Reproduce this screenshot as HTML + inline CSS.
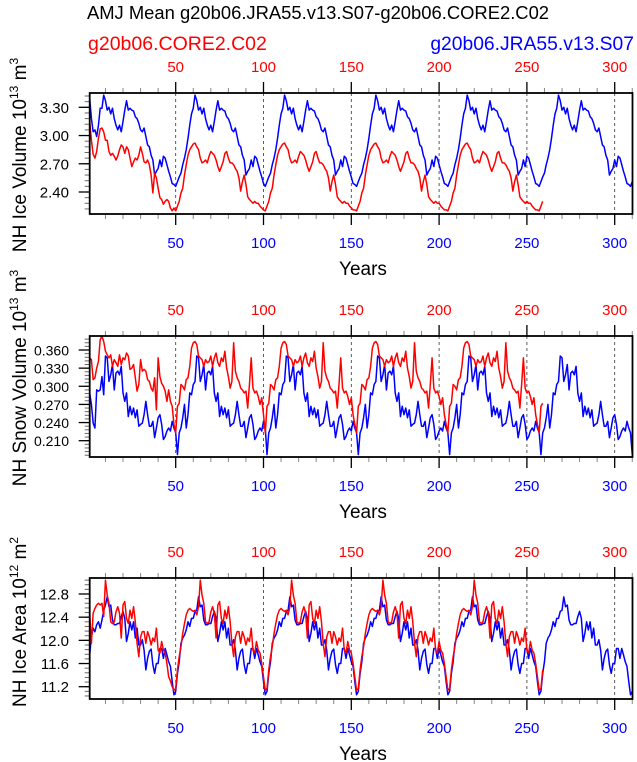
<!DOCTYPE html>
<html><head><meta charset="utf-8"><style>
html,body{margin:0;padding:0;background:#fff;}
svg{display:block;font-family:"Liberation Sans",sans-serif;}
</style></head><body>
<svg id="chart" width="637" height="762" viewBox="0 0 637 762" xmlns="http://www.w3.org/2000/svg">
<text x="318" y="19" font-size="18.4" text-anchor="middle">AMJ Mean g20b06.JRA55.v13.S07-g20b06.CORE2.C02</text>
<text x="88" y="50" font-size="19.5" fill="#ff0000">g20b06.CORE2.C02</text>
<text x="634" y="50" font-size="19.3" fill="#0000ff" text-anchor="end">g20b06.JRA55.v13.S07</text>
<g id="plots"></g>
</svg>
<script>
// ---- data (index i -> model year i+1) ----
const iceVolBlue = [3.40,3.18,3.04,3.06,2.99,3.11,3.29,
3.29,3.43,3.37,3.27,3.30,3.23,3.29,3.18,3.11,3.06,3.11,3.04,3.15,3.27,3.37,3.27,3.29,3.27,3.26,3.20,3.18,3.13,3.06,3.04,3.08,2.99,2.90,2.88,2.79,2.74,2.58,2.62,2.65,2.74,2.67,2.78,2.76,2.69,2.62,2.56,2.49,2.48,
2.46,2.51,2.56,2.60,2.69,2.76,2.85,2.97,3.11,3.23,3.29,3.43,3.37,3.27,3.30,3.23,3.29,3.18,3.11,3.06,3.11,3.04,3.15,3.27,3.37,3.27,3.29,3.27,3.26,3.20,3.18,3.13,3.06,3.04,3.08,2.99,2.90,2.88,2.79,2.74,2.58,2.62,2.65,2.74,2.67,2.78,2.76,2.69,2.62,2.56,2.49,
2.46,2.51,2.56,2.60,2.69,2.76,2.85,2.97,3.11,3.23,3.29,3.43,3.37,3.27,3.30,3.23,3.29,3.18,3.11,3.06,3.11,3.04,3.15,3.27,3.37,3.27,3.29,3.27,3.26,3.20,3.18,3.13,3.06,3.04,3.08,2.99,2.90,2.88,2.79,2.74,2.58,2.62,2.65,2.74,2.67,2.78,2.76,2.69,2.62,2.56,2.49,2.48,
2.46,2.51,2.56,2.60,2.69,2.76,2.85,2.97,3.11,3.23,3.29,3.43,3.37,3.27,3.30,3.23,3.29,3.18,3.11,3.06,3.11,3.04,3.15,3.27,3.37,3.27,3.29,3.27,3.26,3.20,3.18,3.13,3.06,3.04,3.08,2.99,2.90,2.88,2.79,2.74,2.58,2.62,2.65,2.74,2.67,2.78,2.76,2.69,2.62,2.56,2.49,2.48,
2.46,2.51,2.56,2.60,2.69,2.76,2.85,2.97,3.11,3.23,3.29,3.43,3.37,3.27,3.30,3.23,3.29,3.18,3.11,3.06,3.11,3.04,3.15,3.27,3.37,3.27,3.29,3.27,3.26,3.20,3.18,3.13,3.06,3.04,3.08,2.99,2.90,2.88,2.79,2.74,2.58,2.62,2.65,2.74,2.67,2.78,2.76,2.69,2.62,2.56,2.49,2.48,
2.46,2.51,2.56,2.60,2.69,2.76,2.85,2.97,3.11,3.23,3.29,3.43,3.37,3.27,3.30,3.23,3.29,3.18,3.11,3.06,3.11,3.04,3.15,3.27,3.37,3.27,3.29,3.27,3.26,3.20,3.18,3.13,3.06,3.04,3.08,2.99,2.90,2.88,2.79,2.74,2.58,2.62,2.65,2.74,2.67,2.78,2.76,2.69,2.62,2.56,2.49,2.48,
2.46,2.51];
const iceVolRed = [3.15,2.95,2.80,2.76,2.83,2.97,3.07,3.08,3.04,2.95,2.95,2.83,2.79,2.81,2.78,2.74,2.78,2.85,2.90,2.88,2.81,2.88,2.85,2.76,2.67,2.72,2.76,2.74,2.79,2.88,2.81,2.72,2.71,2.74,2.69,2.58,2.39,2.60,2.55,2.44,2.34,2.32,2.27,2.30,2.32,2.30,2.23,2.20,2.23,
2.20,2.25,2.30,2.39,2.44,2.58,2.69,2.79,2.85,2.88,2.91,2.92,2.88,2.85,2.76,2.71,2.72,2.74,2.71,2.78,2.83,2.81,2.79,2.74,2.67,2.62,2.67,2.72,2.81,2.83,2.76,2.71,2.71,2.69,2.65,2.62,2.55,2.41,2.51,2.58,2.48,2.35,2.32,2.30,2.28,2.30,2.28,2.28,2.25,2.23,2.21,
2.20,2.25,2.30,2.39,2.44,2.58,2.69,2.79,2.85,2.88,2.91,2.92,2.88,2.85,2.76,2.71,2.72,2.74,2.71,2.78,2.83,2.81,2.79,2.74,2.67,2.62,2.67,2.72,2.81,2.83,2.76,2.71,2.71,2.69,2.65,2.62,2.55,2.41,2.51,2.58,2.48,2.35,2.32,2.30,2.28,2.30,2.28,2.28,2.25,2.23,2.21,2.21,
2.20,2.25,2.30,2.39,2.44,2.58,2.69,2.79,2.85,2.88,2.91,2.92,2.88,2.85,2.76,2.71,2.72,2.74,2.71,2.78,2.83,2.81,2.79,2.74,2.67,2.62,2.67,2.72,2.81,2.83,2.76,2.71,2.71,2.69,2.65,2.62,2.55,2.41,2.51,2.58,2.48,2.35,2.32,2.30,2.28,2.30,2.28,2.28,2.25,2.23,2.21,2.21,
2.20,2.25,2.30,2.39,2.44,2.58,2.69,2.79,2.85,2.88,2.91,2.92,2.88,2.85,2.76,2.71,2.72,2.74,2.71,2.78,2.83,2.81,2.79,2.74,2.67,2.62,2.67,2.72,2.81,2.83,2.76,2.71,2.71,2.69,2.65,2.62,2.55,2.41,2.51,2.58,2.48,2.35,2.32,2.30,2.28,2.30,2.28,2.28,2.25,2.23,2.21,2.21,
2.20,2.25,2.30];
const snowVolBlue = [.289,.270,.239,.231,.294,.292,.294,.316,.286,
.350,.347,.308,.319,.336,.294,.322,.325,.319,.333,.289,.275,.289,.250,.267,.253,.264,.248,.261,.234,.237,.239,.253,.275,.253,.234,.234,.242,.215,.231,.248,.253,.237,.212,.217,.226,.231,.226,.242,.231,.223,
.187,.223,.231,.248,.270,.231,.253,.289,.286,.303,.308,.350,.347,.308,.319,.336,.294,.322,.325,.319,.333,.289,.275,.289,.250,.267,.253,.264,.248,.261,.234,.237,.239,.253,.275,.253,.234,.234,.242,.215,.231,.248,.253,.237,.212,.217,.226,.231,.226,.242,.231,
.187,.223,.231,.248,.270,.231,.253,.289,.286,.303,.308,.350,.347,.308,.319,.336,.294,.322,.325,.319,.333,.289,.275,.289,.250,.267,.253,.264,.248,.261,.234,.237,.239,.253,.275,.253,.234,.234,.242,.215,.231,.248,.253,.237,.212,.217,.226,.231,.226,.242,.231,.223,
.187,.223,.231,.248,.270,.231,.253,.289,.286,.303,.308,.350,.347,.308,.319,.336,.294,.322,.325,.319,.333,.289,.275,.289,.250,.267,.253,.264,.248,.261,.234,.237,.239,.253,.275,.253,.234,.234,.242,.215,.231,.248,.253,.237,.212,.217,.226,.231,.226,.242,.231,.223,
.187,.223,.231,.248,.270,.231,.253,.289,.286,.303,.308,.350,.347,.308,.319,.336,.294,.322,.325,.319,.333,.289,.275,.289,.250,.267,.253,.264,.248,.261,.234,.237,.239,.253,.275,.253,.234,.234,.242,.215,.231,.248,.253,.237,.212,.217,.226,.231,.226,.242,.231,.223,
.187,.223,.231,.248,.270,.231,.253,.289,.286,.303,.308,.350,.347,.308,.319,.336,.294,.322,.325,.319,.333,.289,.275,.289,.250,.267,.253,.264,.248,.261,.234,.237,.239,.253,.275,.253,.234,.234,.242,.215,.231,.248,.253,.237,.212,.217,.226,.231,.226,.242,.231,.223,
.187];
const snowVolRed = [.347,.344,.311,.314,.330,.341,.377,.383,.374,.358,.352,.347,.352,.333,.344,.339,.333,.352,.336,.347,.344,.355,.350,.328,.330,.336,.314,.292,.303,.344,.325,.328,.325,.311,.308,.297,.292,.314,.261,.347,.316,.305,.300,.292,.275,.294,.275,.267,.237,
.223,.267,.272,.303,.300,.294,.311,.314,.333,.363,.372,.374,.369,.350,.347,.344,.333,.344,.339,.341,.350,.333,.347,.355,.339,.333,.347,.341,.358,.330,.316,.297,.308,.372,.325,.314,.308,.297,.294,.289,.292,.264,.303,.347,.297,.289,.292,.283,.270,.281,.253,
.223,.267,.272,.303,.300,.294,.311,.314,.333,.363,.372,.374,.369,.350,.347,.344,.333,.344,.339,.341,.350,.333,.347,.355,.339,.333,.347,.341,.358,.330,.316,.297,.308,.372,.325,.314,.308,.297,.294,.289,.292,.264,.303,.347,.297,.289,.292,.283,.270,.281,.253,.237,
.223,.267,.272,.303,.300,.294,.311,.314,.333,.363,.372,.374,.369,.350,.347,.344,.333,.344,.339,.341,.350,.333,.347,.355,.339,.333,.347,.341,.358,.330,.316,.297,.308,.372,.325,.314,.308,.297,.294,.289,.292,.264,.303,.347,.297,.289,.292,.283,.270,.281,.253,.237,
.223,.267,.272,.303,.300,.294,.311,.314,.333,.363,.372,.374,.369,.350,.347,.344,.333,.344,.339,.341,.350,.333,.347,.355,.339,.333,.347,.341,.358,.330,.316,.297,.308,.372,.325,.314,.308,.297,.294,.289,.292,.264,.303,.347,.297,.289,.292,.283,.270,.281,.253,.237,
.223,.267,.272];
const iceAreaBlue = [11.75,12.06,12.21,12.15,12.27,12.32,12.21,12.35,12.52,12.61,
12.75,12.58,12.61,12.35,12.27,12.27,12.29,12.29,12.41,12.50,12.38,11.98,12.12,12.32,12.18,12.32,12.04,12.21,11.92,11.92,12.01,11.83,11.49,11.69,11.81,11.85,11.58,11.43,11.60,11.60,11.86,11.86,11.69,11.86,11.75,11.63,11.55,11.29,
11.06,11.12,11.43,11.63,11.95,12.04,12.09,12.18,12.32,12.24,12.38,12.38,12.50,12.52,12.75,12.58,12.61,12.35,12.27,12.27,12.29,12.29,12.41,12.50,12.38,11.98,12.12,12.32,12.18,12.32,12.04,12.21,11.92,11.92,12.01,11.83,11.49,11.69,11.81,11.85,11.58,11.43,11.60,11.60,11.86,11.86,11.69,11.86,11.75,11.63,11.55,11.29,
11.06,11.12,11.43,11.63,11.95,12.04,12.09,12.18,12.32,12.24,12.38,12.38,12.50,12.52,12.75,12.58,12.61,12.35,12.27,12.27,12.29,12.29,12.41,12.50,12.38,11.98,12.12,12.32,12.18,12.32,12.04,12.21,11.92,11.92,12.01,11.83,11.49,11.69,11.81,11.85,11.58,11.43,11.60,11.60,11.86,11.86,11.69,11.86,11.75,11.63,11.55,11.29,
11.06,11.12,11.43,11.63,11.95,12.04,12.09,12.18,12.32,12.24,12.38,12.38,12.50,12.52,12.75,12.58,12.61,12.35,12.27,12.27,12.29,12.29,12.41,12.50,12.38,11.98,12.12,12.32,12.18,12.32,12.04,12.21,11.92,11.92,12.01,11.83,11.49,11.69,11.81,11.85,11.58,11.43,11.60,11.60,11.86,11.86,11.69,11.86,11.75,11.63,11.55,11.29,
11.06,11.12,11.43,11.63,11.95,12.04,12.09,12.18,12.32,12.24,12.38,12.38,12.50,12.52,12.75,12.58,12.61,12.35,12.27,12.27,12.29,12.29,12.41,12.50,12.38,11.98,12.12,12.32,12.18,12.32,12.04,12.21,11.92,11.92,12.01,11.83,11.49,11.69,11.81,11.85,11.58,11.43,11.60,11.60,11.86,11.86,11.69,11.86,11.75,11.63,11.55,11.29,
11.06,11.12,11.43,11.63,11.95,12.04,12.09,12.18,12.32,12.24,12.38,12.38,12.50,12.52,12.75,12.58,12.61,12.35,12.27,12.27,12.29,12.29,12.41,12.50,12.38,11.98,12.12,12.32,12.18,12.32,12.04,12.21,11.92,11.92,12.01,11.83,11.49,11.69,11.81,11.85,11.58,11.43,11.60,11.60,11.86,11.86,11.69,11.86,11.75,11.63,11.55,11.29,
11.06,11.12];
const iceAreaRed = [12.47,11.95,12.47,12.55,12.61,12.64,12.61,12.64,12.41,
13.04,12.78,12.64,12.32,12.29,12.32,12.49,12.58,12.47,12.04,12.61,12.67,12.38,12.29,12.52,12.38,12.58,12.32,11.95,11.72,12.06,12.15,12.15,11.95,12.15,12.06,11.92,12.04,11.98,12.21,11.83,11.78,11.98,11.83,11.78,11.60,11.37,11.30,11.20,
11.14,11.17,11.49,11.72,11.89,12.12,12.29,12.44,12.52,12.55,12.52,12.50,12.52,12.44,12.58,13.04,12.78,12.64,12.32,12.29,12.32,12.49,12.58,12.47,12.04,12.61,12.67,12.38,12.29,12.52,12.38,12.58,12.32,11.95,11.72,12.06,12.15,12.15,11.95,12.15,12.06,11.92,12.04,11.98,12.21,11.83,11.78,11.98,11.83,11.78,11.60,11.37,
11.14,11.17,11.49,11.72,11.89,12.12,12.29,12.44,12.52,12.55,12.52,12.50,12.52,12.44,12.58,13.04,12.78,12.64,12.32,12.29,12.32,12.49,12.58,12.47,12.04,12.61,12.67,12.38,12.29,12.52,12.38,12.58,12.32,11.95,11.72,12.06,12.15,12.15,11.95,12.15,12.06,11.92,12.04,11.98,12.21,11.83,11.78,11.98,11.83,11.78,11.60,11.37,
11.14,11.17,11.49,11.72,11.89,12.12,12.29,12.44,12.52,12.55,12.52,12.50,12.52,12.44,12.58,13.04,12.78,12.64,12.32,12.29,12.32,12.49,12.58,12.47,12.04,12.61,12.67,12.38,12.29,12.52,12.38,12.58,12.32,11.95,11.72,12.06,12.15,12.15,11.95,12.15,12.06,11.92,12.04,11.98,12.21,11.83,11.78,11.98,11.83,11.78,11.60,11.37,
11.14,11.17,11.49,11.72,11.89,12.12,12.29,12.44,12.52,12.55,12.52,12.50,12.52,12.44,12.58,13.04,12.78,12.64,12.32,12.29,12.32,12.49,12.58,12.47,12.04,12.61,12.67,12.38,12.29,12.52,12.38,12.58,12.32,11.95,11.72,12.06,12.15,12.15,11.95,12.15,12.06,11.92,12.04,11.98,12.21,11.83,11.78,11.98,11.83,11.78,11.60,11.37,
11.14,11.17,11.49];
const xTicks = [50,100,150,200,250,300];
const xTickLabels = ["50","100","150","200","250","300"];
const iceVolTicks = [3.30,3.00,2.70,2.40];
const iceVolTickLabels = ["3.30","3.00","2.70","2.40"];
const snowVolTicks = [0.360,0.330,0.300,0.270,0.240,0.210];
const snowVolTickLabels = ["0.360","0.330","0.300","0.270","0.240","0.210"];
const iceAreaTicks = [12.8,12.4,12.0,11.6,11.2];
const iceAreaTickLabels = ["12.8","12.4","12.0","11.6","11.2"];

const NS = "http://www.w3.org/2000/svg";
const X0 = 89.7, X1 = 632.5;
function xScale(yr){ return 175.7 + (yr - 50) * 1.756; }
function mk(tag, attrs, parent){
  const e = document.createElementNS(NS, tag);
  for (const k in attrs) e.setAttribute(k, attrs[k]);
  parent.appendChild(e); return e;
}
const root = document.getElementById('plots');

function panel(opt){
  const g = mk('g', {}, root);
  
  
  const top = opt.top, bot = opt.bottom;
  const ys = v => opt.p1 + (v - opt.v1) * (opt.p2 - opt.p1) / (opt.v2 - opt.v1);
  const cid = 'clip-' + opt.name;
  const cp = mk('clipPath', {id: cid}, g);
  mk('rect', {x: X0, y: top, width: X1 - X0, height: bot - top}, cp);
  xTicks.forEach(t => {
    const l = mk('line', {x1: xScale(t), x2: xScale(t), y1: top, y2: bot, stroke: '#333', 'stroke-width': 0.8, 'stroke-dasharray': '3,3'}, g);
    
    
  });
  for (let yr = 10; yr <= 310; yr += 10) {
    if (yr % 50 === 0) continue;
    const x = xScale(yr);
    mk('line', {x1: x, x2: x, y1: top, y2: top - 5, stroke: '#888', 'stroke-width': 1}, g);
    mk('line', {x1: x, x2: x, y1: bot, y2: bot + 5, stroke: '#888', 'stroke-width': 1}, g);
  }
  xTicks.forEach((t, i) => {
    const x = xScale(t);
    mk('line', {x1: x, x2: x, y1: top, y2: top - 11, stroke: '#000', 'stroke-width': 1.3}, g);
    mk('line', {x1: x, x2: x, y1: bot, y2: bot + 11, stroke: '#000', 'stroke-width': 1.3}, g);
    const tr = mk('text', {x: x, y: top - 21, 'font-size': 15, fill: '#ff0000', 'text-anchor': 'middle'}, g);
    tr.textContent = xTickLabels[i];
    
    
    const tb = mk('text', {x: x, y: bot + 34, 'font-size': 15, fill: '#0000ff', 'text-anchor': 'middle'}, g);
    tb.textContent = xTickLabels[i];
    
    
  });
  for (let k = -20; k <= 40; k++) {
    const v = opt.ticks[opt.ticks.length - 1] + k * opt.minor;
    const y = ys(v);
    if (y < top + 0.5 || y > bot - 0.5) continue;
    mk('line', {x1: X0, x2: X0 - 5, y1: y, y2: y, stroke: '#666', 'stroke-width': 1}, g);
  }
  opt.ticks.forEach((t, i) => {
    const y = ys(t);
    mk('line', {x1: X0, x2: X0 - 11, y1: y, y2: y, stroke: '#000', 'stroke-width': 1.3}, g);
    const tl = mk('text', {x: 69, y: y + 5.5, 'font-size': opt.fs, 'text-anchor': 'end'}, g);
    tl.textContent = opt.labels[i];
    
    
  });
  [[opt.blue, '#0000ff', 'jra55'], [opt.red, '#ff0000', 'core2']].forEach(s => {
    const d = s[0].map((v, i) => (i ? 'L' : 'M') + xScale(i + 1).toFixed(2) + ',' + ys(v).toFixed(2)).join('');
    const p = mk('path', {d: d, fill: 'none', stroke: s[1], 'stroke-width': 1.5, 'stroke-linejoin': 'round', 'clip-path': 'url(#' + cid + ')'}, g);
    
    
  });
  const fr = mk('rect', {x: X0, y: top, width: X1 - X0, height: bot - top, fill: 'none', stroke: '#000', 'stroke-width': 1.8}, g);
  
  
  const xt = mk('text', {x: 363, y: bot + 61, 'font-size': 19, 'text-anchor': 'middle'}, g);
  xt.textContent = 'Years';
  
  
  const yt = mk('text', {x: 0, y: 0, 'font-size': 19, 'text-anchor': 'middle', transform: 'translate(26,' + opt.titleY + ') rotate(-90)'}, g);
  
  
  const a = mk('tspan', {}, yt); a.textContent = opt.title + ' 10';
  const b = mk('tspan', {dy: -8, 'font-size': 12}, yt); b.textContent = opt.exp;
  const c = mk('tspan', {dy: 8}, yt); c.textContent = ' m';
  const d2 = mk('tspan', {dy: -8, 'font-size': 12}, yt); d2.textContent = opt.unitExp;
}

panel({name: 'ice-volume', top: 93, bottom: 214, v1: 3.30, p1: 107.3, v2: 2.40, p2: 192, minor: 0.06,
  ticks: iceVolTicks, labels: iceVolTickLabels, fs: 15, blue: iceVolBlue, red: iceVolRed,
  title: 'NH Ice Volume', exp: '13', unitExp: '3', titleY: 155});
panel({name: 'snow-volume', top: 336, bottom: 457, v1: 0.360, p1: 350, v2: 0.210, p2: 440.7, minor: 0.006,
  ticks: snowVolTicks, labels: snowVolTickLabels, fs: 14, blue: snowVolBlue, red: snowVolRed,
  title: 'NH Snow Volume', exp: '13', unitExp: '3', titleY: 378});
panel({name: 'ice-area', top: 578, bottom: 699, v1: 12.8, p1: 594, v2: 11.2, p2: 686.7, minor: 0.08,
  ticks: iceAreaTicks, labels: iceAreaTickLabels, fs: 15, blue: iceAreaBlue, red: iceAreaRed,
  title: 'NH Ice Area', exp: '12', unitExp: '2', titleY: 622});
</script>
</body></html>
